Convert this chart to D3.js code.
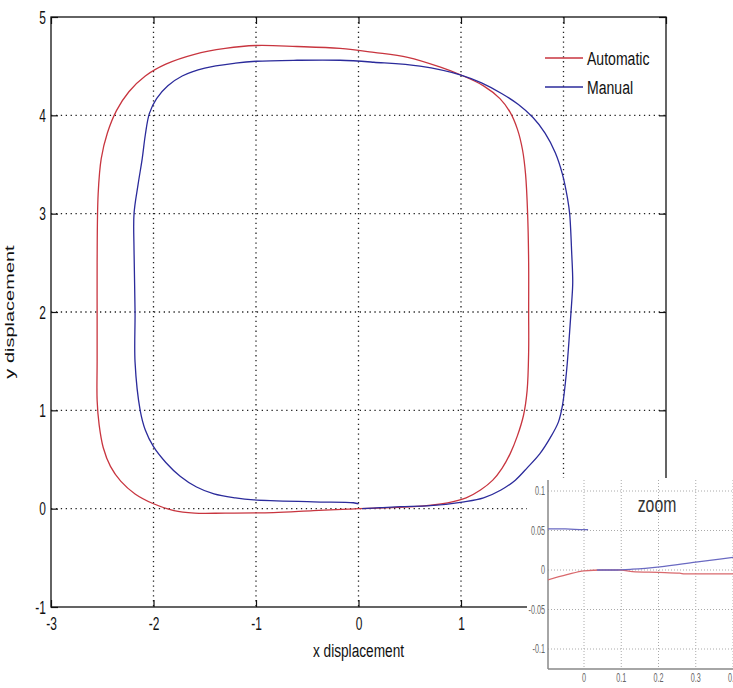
<!DOCTYPE html>
<html>
<head>
<meta charset="utf-8">
<script src="https://cdn.jsdelivr.net/npm/d3@7"></script>
<style>
    body { margin: 0; background: white; }
    text { font-family: "Liberation Sans", Arial, sans-serif; }
</style>
</head>
<body>
<script>
// values
const seriesNames = ["Automatic", "Manual"];
const seriesColors = ["#c8353f", "#2b2b9b"];

const automaticPts = [
    [0.0, 0.0], [0.54, 0.02], [0.87, 0.06], [1.05, 0.11], [1.19, 0.19], [1.31, 0.29],
    [1.40, 0.41], [1.48, 0.56], [1.55, 0.74], [1.61, 0.95], [1.645, 1.2], [1.66, 1.6],
    [1.66, 2.0], [1.66, 2.5], [1.65, 3.0], [1.63, 3.4], [1.60, 3.65], [1.55, 3.86],
    [1.48, 4.03], [1.38, 4.17], [1.22, 4.30], [1.0, 4.41], [0.8, 4.49], [0.48, 4.59],
    [0.15, 4.64], [-0.18, 4.68], [-0.6, 4.70], [-1.0, 4.71], [-1.3, 4.68], [-1.6, 4.62],
    [-1.88, 4.52], [-2.08, 4.40], [-2.24, 4.24], [-2.36, 4.05], [-2.45, 3.82], [-2.51, 3.56],
    [-2.54, 3.2], [-2.55, 2.5], [-2.55, 2.0], [-2.55, 1.5], [-2.55, 1.1], [-2.53, 0.85],
    [-2.49, 0.62], [-2.42, 0.43], [-2.32, 0.28], [-2.18, 0.15], [-2.0, 0.05], [-1.8, -0.02],
    [-1.6, -0.045], [-1.3, -0.045], [-0.83, -0.04], [-0.44, -0.02], [-0.1, -0.005], [0.0, 0.0]
];

const manualPts = [
    [0.035, 0.0], [0.21, 0.01], [0.41, 0.02], [0.7, 0.03], [1.03, 0.07], [1.22, 0.11],
    [1.39, 0.19], [1.53, 0.29], [1.65, 0.42], [1.77, 0.56], [1.87, 0.72], [1.95, 0.88],
    [1.99, 1.05], [2.03, 1.4], [2.06, 1.8], [2.08, 2.1], [2.09, 2.3], [2.08, 2.6],
    [2.06, 3.0], [2.04, 3.15], [1.99, 3.40], [1.92, 3.62], [1.82, 3.82], [1.70, 3.98],
    [1.56, 4.11], [1.40, 4.22], [1.2, 4.33], [1.0, 4.41], [0.6, 4.50], [0.15, 4.54],
    [-0.18, 4.56], [-0.6, 4.56], [-1.0, 4.55], [-1.2, 4.53], [-1.5, 4.48], [-1.72, 4.40],
    [-1.86, 4.30], [-1.97, 4.17], [-2.04, 4.02], [-2.08, 3.8], [-2.11, 3.56], [-2.15, 3.3],
    [-2.19, 3.0], [-2.19, 2.63], [-2.18, 2.0], [-2.18, 1.49], [-2.13, 1.0], [-2.08, 0.8],
    [-2.0, 0.63], [-1.88, 0.47], [-1.74, 0.33], [-1.58, 0.22], [-1.41, 0.15], [-1.2, 0.11],
    [-1.02, 0.09], [-0.44, 0.07], [-0.05, 0.06], [0.0, 0.05]
];

const xTicks = [-3, -2, -1, 0, 1, 2, 3];
const yTicks = [-1, 0, 1, 2, 3, 4, 5];

// zoomed view near the origin
const insetAutomatic = [
    [-0.1, -0.013], [-0.046, -0.006], [0.0, -0.001], [0.05, 0.0], [0.1, 0.0],
    [0.13, -0.002], [0.2, -0.003], [0.257, -0.004], [0.27, -0.005], [0.4, -0.005], [0.5, -0.005]
];
const insetManualEnd = [[-0.1, 0.052], [-0.05, 0.052], [0.0, 0.051], [0.011, 0.051]];
const insetManualStart = [
    [0.035, 0.0], [0.08, 0.0], [0.13, 0.001], [0.204, 0.004], [0.30, 0.010], [0.40, 0.016], [0.5, 0.022]
];
const insetXTicks = [0, 0.1, 0.2, 0.3, 0.4];
const insetYTicks = [-0.1, -0.05, 0, 0.05, 0.1];

window.onload = function () {
    const svg = d3.select("body").append("svg")
        .attr("width", 733)
        .attr("height", 688);

    svg.append("rect").attr("width", 733).attr("height", 688).attr("fill", "white");

    const x = d3.scaleLinear().domain([-3, 3]).range([51, 666]);
    const y = d3.scaleLinear().domain([-1, 5]).range([607, 17]);

    // dotted grid
    svg.append("g").selectAll("line")
        .data(xTicks.slice(1, -1))
        .join("line")
        .attr("x1", d => x(d)).attr("x2", d => x(d))
        .attr("y1", y(5)).attr("y2", y(-1))
        .attr("stroke", "#222").attr("stroke-width", 1.3)
        .attr("stroke-dasharray", "1.3,3.6");
    svg.append("g").selectAll("line")
        .data(yTicks.slice(1, -1))
        .join("line")
        .attr("x1", x(-3)).attr("x2", x(3))
        .attr("y1", d => y(d)).attr("y2", d => y(d))
        .attr("stroke", "#222").attr("stroke-width", 1.3)
        .attr("stroke-dasharray", "1.3,3.6");

    // axes with inward ticks
    const xAxis = svg.append("g")
        .attr("transform", "translate(0," + y(-1) + ")")
        .call(d3.axisBottom(x).tickValues(xTicks).tickSize(-7).tickPadding(10).tickFormat(d3.format("d")));
    svg.append("g")
        .attr("transform", "translate(0," + y(5) + ")")
        .call(d3.axisTop(x).tickValues(xTicks).tickSize(-7).tickFormat(""));
    const yAxis = svg.append("g")
        .attr("transform", "translate(" + x(-3) + ",0)")
        .call(d3.axisLeft(y).tickValues(yTicks).tickSize(-7).tickPadding(8).tickFormat(d3.format("d")));
    svg.append("g")
        .attr("transform", "translate(" + x(3) + ",0)")
        .call(d3.axisRight(y).tickValues(yTicks).tickSize(-7).tickFormat(""));

    svg.selectAll(".domain").remove();
    svg.selectAll(".tick line").attr("stroke", "#111").attr("stroke-width", 1.2);
    svg.selectAll(".tick text")
        .attr("fill", "#111")
        .style("font-family", "'Liberation Sans', Arial, sans-serif")
        .style("font-size", "19px");
    xAxis.selectAll(".tick text").attr("transform", "scale(0.63,1)").text(d => d < 0 ? "-" + Math.abs(d) : d);
    yAxis.selectAll(".tick text").attr("transform", "scale(0.63,1)").text(d => d < 0 ? "-" + Math.abs(d) : d);

    // box
    svg.append("rect")
        .attr("x", x(-3)).attr("y", y(5))
        .attr("width", x(3) - x(-3)).attr("height", y(-1) - y(5))
        .attr("fill", "none").attr("stroke", "#111").attr("stroke-width", 1.3);

    // curves
    const line = d3.line()
        .x(d => x(d[0]))
        .y(d => y(d[1]))
        .curve(d3.curveCatmullRom.alpha(0.5));

    [automaticPts, manualPts].forEach((pts, i) => {
        svg.append("path")
            .datum(pts)
            .attr("d", line)
            .attr("fill", "none")
            .attr("stroke", seriesColors[i])
            .attr("stroke-width", 1.3);
    });

    // axis labels
    svg.append("text")
        .attr("transform", "translate(" + x(0) + ",657) scale(0.72,1)")
        .attr("text-anchor", "middle")
        .attr("fill", "#111")
        .style("font-size", "19px")
        .text("x displacement");

    svg.append("text")
        .attr("transform", "translate(14," + y(2) + ") scale(0.66,1) rotate(-90)")
        .attr("text-anchor", "middle")
        .attr("fill", "#111")
        .style("font-size", "20px")
        .text("y displacement");

    // legend
    const legendY = [58, 87];
    seriesNames.forEach((name, i) => {
        svg.append("line")
            .attr("x1", 545).attr("x2", 583)
            .attr("y1", legendY[i]).attr("y2", legendY[i])
            .attr("stroke", seriesColors[i]).attr("stroke-width", 1.3);
        svg.append("text")
            .attr("transform", "translate(587," + (legendY[i] + 7) + ") scale(0.74,1)")
            .attr("fill", "#111")
            .style("font-size", "19px")
            .text(name);
    });

    // inset with the zoomed view
    const inset = svg.append("g");
    inset.append("rect")
        .attr("x", 527).attr("y", 478)
        .attr("width", 733 - 527).attr("height", 688 - 478)
        .attr("fill", "white");

    const xi = d3.scaleLinear().domain([0, 0.4]).range([584, 733]);
    const yi = d3.scaleLinear().domain([-0.1, 0.1]).range([649, 491]);
    const left = 548, top = 480, bottom = 669;

    inset.append("clipPath").attr("id", "insetClip")
        .append("rect").attr("x", left).attr("y", top)
        .attr("width", 733 - left).attr("height", bottom - top);

    inset.append("g").selectAll("line")
        .data(insetXTicks)
        .join("line")
        .attr("x1", d => xi(d)).attr("x2", d => xi(d))
        .attr("y1", top).attr("y2", bottom)
        .attr("stroke", "#aaa").attr("stroke-width", 1)
        .attr("stroke-dasharray", "1,2");
    inset.append("g").selectAll("line")
        .data(insetYTicks)
        .join("line")
        .attr("x1", left).attr("x2", 733)
        .attr("y1", d => yi(d)).attr("y2", d => yi(d))
        .attr("stroke", "#aaa").attr("stroke-width", 1)
        .attr("stroke-dasharray", "1,2");

    inset.append("line")
        .attr("x1", left).attr("x2", left).attr("y1", top).attr("y2", bottom)
        .attr("stroke", "#888").attr("stroke-width", 1.5);
    inset.append("line")
        .attr("x1", left).attr("x2", 733).attr("y1", bottom).attr("y2", bottom)
        .attr("stroke", "#888").attr("stroke-width", 1.5);

    inset.append("g").selectAll("text")
        .data(insetYTicks)
        .join("text")
        .attr("transform", d => "translate(545," + (yi(d) + 4) + ") scale(0.6,1)")
        .attr("text-anchor", "end")
        .attr("fill", "#666")
        .style("font-size", "12px")
        .text(d => d === 0 ? "0" : (d < 0 ? "-" : "") + String(Math.abs(d)));
    inset.append("g").selectAll("text")
        .data(insetXTicks)
        .join("text")
        .attr("transform", d => "translate(" + xi(d) + ",682) scale(0.6,1)")
        .attr("text-anchor", "middle")
        .attr("fill", "#666")
        .style("font-size", "12px")
        .text(d => d === 0 ? "0" : String(d));

    const iline = d3.line()
        .x(d => xi(d[0]))
        .y(d => yi(d[1]))
        .curve(d3.curveMonotoneX);
    const insetPlot = inset.append("g").attr("clip-path", "url(#insetClip)");
    insetPlot.append("path").datum(insetAutomatic).attr("d", iline)
        .attr("fill", "none").attr("stroke", "#d9686c").attr("stroke-width", 1.3);
    [insetManualEnd, insetManualStart].forEach(pts => {
        insetPlot.append("path").datum(pts).attr("d", iline)
            .attr("fill", "none").attr("stroke", "#6a6ac2").attr("stroke-width", 1.3);
    });

    inset.append("text")
        .attr("transform", "translate(657,512) scale(0.75,1.05)")
        .attr("text-anchor", "middle")
        .attr("fill", "#333")
        .style("font-size", "21px")
        .text("zoom");
};
</script>
</body>
</html>
